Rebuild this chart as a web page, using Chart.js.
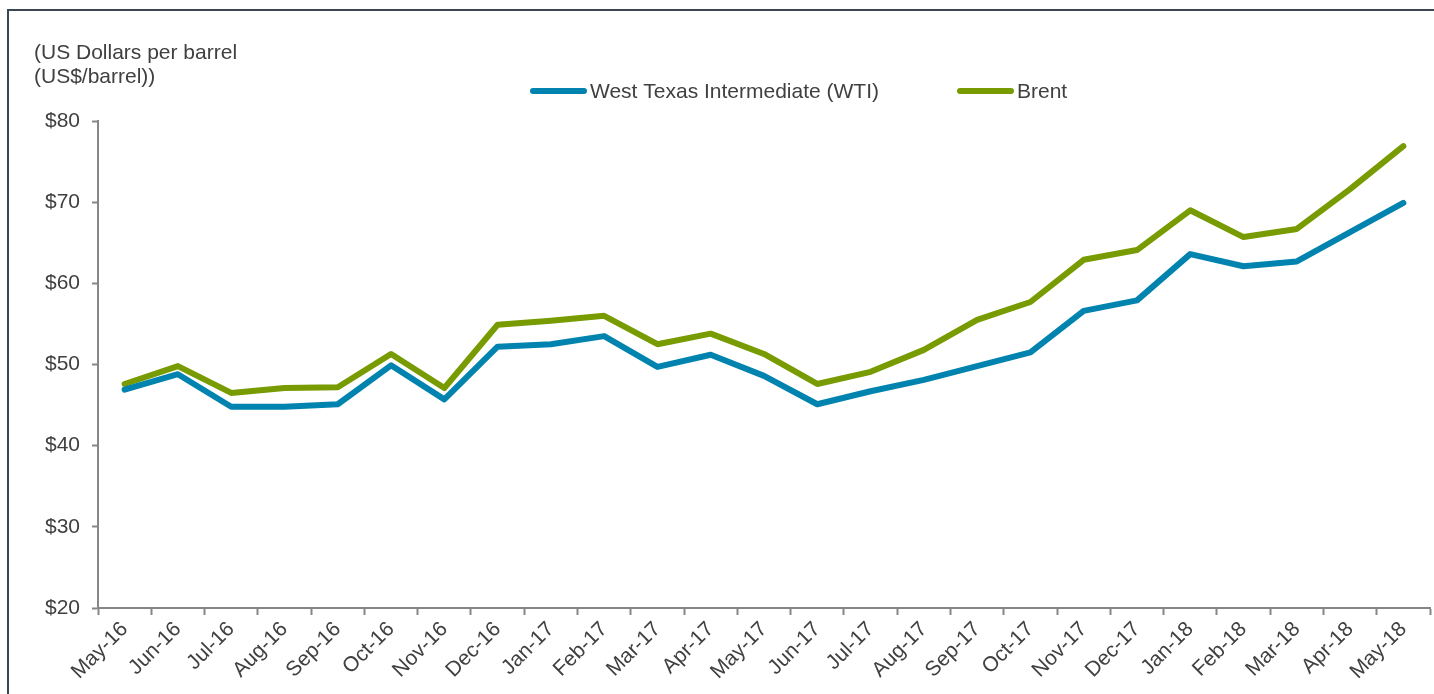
<!DOCTYPE html>
<html>
<head>
<meta charset="utf-8">
<script src="https://cdn.jsdelivr.net/npm/chart.js@4.4.1/dist/chart.umd.min.js"></script>
<style>
  html, body { margin: 0; padding: 0; background: #fff; overflow: hidden; }
  #frame { position: absolute; left: 7px; top: 9px; width: 1500px; height: 800px;
           border-left: 2px solid #3d4751; border-top: 2px solid #3d4751; }
  #wrap { position: absolute; left: 0; top: 0; width: 1434px; height: 694px; }
</style>
</head>
<body>
<div id="frame"></div>
<div id="wrap"><canvas id="oilChart"></canvas></div>
<script>
// Monthly crude prices
const months = ['May-16', 'Jun-16', 'Jul-16', 'Aug-16', 'Sep-16', 'Oct-16', 'Nov-16', 'Dec-16',
    'Jan-17', 'Feb-17', 'Mar-17', 'Apr-17', 'May-17', 'Jun-17', 'Jul-17', 'Aug-17', 'Sep-17',
    'Oct-17', 'Nov-17', 'Dec-17', 'Jan-18', 'Feb-18', 'Mar-18', 'Apr-18', 'May-18'];
const wti = [46.9, 48.8, 44.8, 44.8, 45.1, 49.9, 45.7, 52.2, 52.5, 53.5, 49.7, 51.2, 48.6,
    45.1, 46.7, 48.1, 49.8, 51.5, 56.6, 57.9, 63.6, 62.1, 62.7, 66.3, 69.9];
const brent = [47.6, 49.8, 46.5, 47.1, 47.2, 51.3, 47.1, 54.9, 55.4, 56.0, 52.5, 53.8, 51.3,
    47.6, 49.1, 51.8, 55.5, 57.7, 62.9, 64.1, 69.0, 65.7, 66.7, 71.6, 76.9];
const yTicks = [20, 30, 40, 50, 60, 70, 80];
const yTitle = ['(US Dollars per barrel', '(US$/barrel))'];

const WTI_COLOR = '#0083ae';
const BRENT_COLOR = '#779b00';
const TEXT_COLOR = '#404040';
const AXIS_COLOR = '#868686';
const FONT = 'Liberation Sans, Arial, sans-serif';

// y title + legend drawn at fixed spots like the original
const annotations = {
    id: 'annotations',
    afterDraw(chart) {
        const ctx = chart.ctx;
        ctx.save();
        ctx.fillStyle = TEXT_COLOR;
        ctx.textBaseline = 'alphabetic';
        ctx.textAlign = 'left';
        ctx.font = '21px ' + FONT;
        ctx.fillText(yTitle[0], 34, 59);
        ctx.fillText(yTitle[1], 34, 83);

        const items = [
            { x: 533, label: 'West Texas Intermediate (WTI)', color: WTI_COLOR },
            { x: 960, label: 'Brent', color: BRENT_COLOR }
        ];
        items.forEach(function(it) {
            ctx.strokeStyle = it.color;
            ctx.lineWidth = 6;
            ctx.lineCap = 'round';
            ctx.beginPath();
            ctx.moveTo(it.x, 91);
            ctx.lineTo(it.x + 51, 91);
            ctx.stroke();
            ctx.fillText(it.label, it.x + 57, 98);
        });
        ctx.restore();
    }
};

document.addEventListener('DOMContentLoaded', function() {
    const ctx = document.getElementById('oilChart').getContext('2d');
    new Chart(ctx, {
        type: 'line',
        data: {
            labels: months,
            datasets: [{
                label: 'West Texas Intermediate (WTI)',
                data: wti,
                borderColor: WTI_COLOR,
                borderWidth: 6,
                pointRadius: 0,
                tension: 0,
                borderJoinStyle: 'round',
                borderCapStyle: 'round'
            }, {
                label: 'Brent',
                data: brent,
                borderColor: BRENT_COLOR,
                borderWidth: 6,
                pointRadius: 0,
                tension: 0,
                borderJoinStyle: 'round',
                borderCapStyle: 'round'
            }]
        },
        options: {
            responsive: true,
            maintainAspectRatio: false,
            animation: false,
            layout: { padding: { left: 0, right: 4, top: 121, bottom: 0 } },
            scales: {
                x: {
                    offset: true,
                    grid: {
                        offset: true,
                        drawOnChartArea: false,
                        color: AXIS_COLOR,
                        tickLength: 7,
                        tickWidth: 2
                    },
                    border: { color: AXIS_COLOR, width: 2 },
                    ticks: {
                        maxRotation: 45,
                        minRotation: 45,
                        autoSkip: false,
                        color: TEXT_COLOR,
                        padding: 2,
                        font: { family: FONT, size: 21 }
                    },
                    afterFit(scale) { scale.height = 86; }
                },
                y: {
                    min: 20,
                    max: 80,
                    afterBuildTicks(scale) {
                        scale.ticks = yTicks.map(function(v) { return { value: v }; });
                    },
                    grid: {
                        drawOnChartArea: false,
                        color: AXIS_COLOR,
                        tickLength: 6,
                        tickWidth: 2
                    },
                    border: { color: AXIS_COLOR, width: 2 },
                    ticks: {
                        color: TEXT_COLOR,
                        padding: 12,
                        font: { family: FONT, size: 21 },
                        callback: function(v) { return '$' + v; }
                    },
                    afterFit(scale) { scale.width = 98; }
                }
            },
            plugins: {
                legend: { display: false },
                tooltip: { enabled: false }
            }
        },
        plugins: [annotations]
    });
});
</script>
</body>
</html>
